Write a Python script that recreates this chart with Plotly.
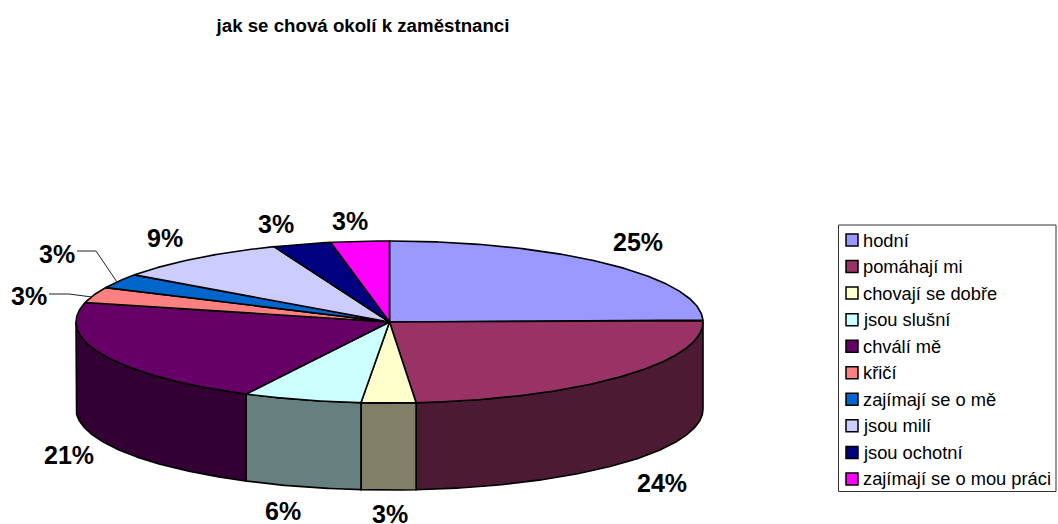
import math
import plotly.graph_objects as go

categories = ["hodní", "pomáhají mi", "chovají se dobře", "jsou slušní", "chválí mě",
              "křičí", "zajímají se o mě", "jsou milí", "jsou ochotní", "zajímají se o mou práci"]
values = [24.6, 24.0, 2.8, 6.1, 21.3, 3.1, 2.9, 9.1, 3.0, 3.0]
top_colors = ["#9999FF", "#993366", "#FFFFCC", "#CCFFFF", "#660066",
              "#FF8080", "#0066CC", "#CCCCFF", "#000080", "#FF00FF"]
side_colors = ["#4C4C80", "#4D1A33", "#808066", "#668080", "#330033",
               "#804040", "#003366", "#666680", "#000040", "#800080"]
title_text = "jak se chová okolí k zaměstnanci"

# label centres and leader lines, in layout pixels
label_xy = [(638, 242), (662, 483), (390, 514), (283, 511), (69, 455),
            (29, 296), (57, 254), (165, 238), (276, 224), (350, 221)]
leaders = [([49, 69, 92], [294, 294, 297]), ([77, 96, 117], [251, 251, 282])]

CX, CY, A, B, DEPTH = 389.5, 322.0, 313.5, 81.0, 87.0
SWATCH_X, TEXT_X, ROW_Y0, ROW_STEP = 852, 862, 240, 26.55


def pt(t, dy=0.0):
    r = math.radians(t)
    return CX + A * math.sin(r), CY - B * math.cos(r) + dy


def arc(t0, t1, dy=0.0):
    n = max(2, int(abs(t1 - t0) * 2) + 1)
    return [pt(t0 + (t1 - t0) * i / (n - 1), dy) for i in range(n)]


total = sum(values)
edges = [0.0]
for v in values:
    edges.append(edges[-1] + v / total * 360)

fig = go.Figure()


def poly(points, fill):
    xs = [p[0] for p in points] + [points[0][0]]
    ys = [p[1] for p in points] + [points[0][1]]
    fig.add_trace(go.Scatter(x=xs, y=ys, mode="lines", fill="toself", fillcolor=fill,
                             line=dict(color="#000000", width=1.6), hoverinfo="skip",
                             showlegend=False))


# side walls: only the front half of the cylinder is visible
for i in range(len(values)):
    t0, t1 = max(edges[i], 90), min(edges[i + 1], 270)
    if t1 > t0:
        poly(arc(t0, t1) + arc(t1, t0, DEPTH), side_colors[i])

# top wedges
for i in range(len(values)):
    poly([(CX, CY)] + arc(edges[i], edges[i + 1]), top_colors[i])

for lx, ly in leaders:
    fig.add_trace(go.Scatter(x=lx, y=ly, mode="lines", line=dict(color="#222222", width=1),
                             hoverinfo="skip", showlegend=False))

# legend: swatches and their texts
row_y = [ROW_Y0 + ROW_STEP * i for i in range(len(categories))]
fig.add_trace(go.Scatter(
    x=[SWATCH_X] * len(categories), y=row_y,
    mode="markers", hoverinfo="skip", showlegend=False,
    marker=dict(symbol="square", size=12, color=top_colors,
                line=dict(color="#000000", width=1.5))))

annotations = [dict(x=x, y=y, xref="x", yref="y", text=f"<b>{round(v)}%</b>", showarrow=False,
                    font=dict(family="Liberation Sans", size=25, color="#000000"),
                    xanchor="center", yanchor="middle")
               for (x, y), v in zip(label_xy, values)]
annotations += [dict(x=TEXT_X, y=y, xref="x", yref="y", text=c, showarrow=False,
                     font=dict(family="Liberation Sans", size=18.3, color="#000000"),
                     xanchor="left", yanchor="middle", xshift=-1)
                for c, y in zip(categories, row_y)]

fig.update_layout(
    width=1058, height=524, margin=dict(l=0, r=0, t=0, b=0),
    paper_bgcolor="#FFFFFF", plot_bgcolor="#FFFFFF", showlegend=False,
    xaxis=dict(range=[0, 1058], visible=False, fixedrange=True),
    yaxis=dict(range=[524, 0], visible=False, fixedrange=True),
    title=dict(text=f"<b>{title_text}</b>", x=363 / 1058, xanchor="center", y=1 - 25 / 524,
               yanchor="middle", font=dict(family="Liberation Sans", size=18.7, color="#000000")),
    shapes=[dict(type="rect", xref="x", yref="y", x0=838.5, x1=1056, y0=225, y1=491.5,
                 line=dict(color="#333333", width=1), fillcolor="rgba(0,0,0,0)")],
    annotations=annotations,
)

fig.write_html("out.html", config=dict(displayModeBar=False),
               post_script="document.body.style.margin='0';document.body.style.overflow='hidden';")
